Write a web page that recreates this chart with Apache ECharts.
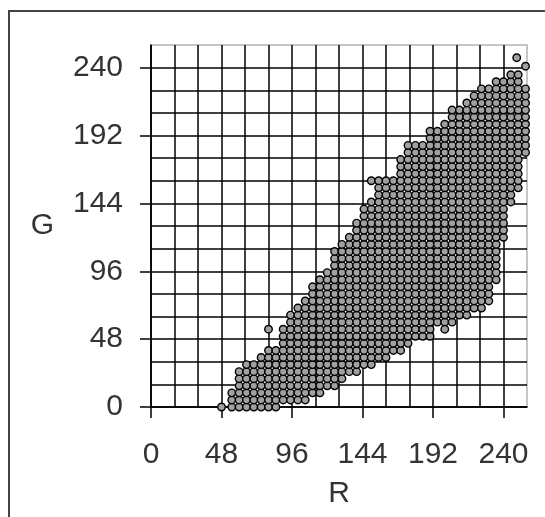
<!DOCTYPE html>
<html><head><meta charset="utf-8">
<style>html,body{margin:0;padding:0;background:#fff}#c{width:545px;height:517px}</style>
<script src="https://cdn.jsdelivr.net/npm/echarts@6/dist/echarts.min.js"></script>
</head><body><div id="c"></div>
<script>
const tickLabels=[0,48,96,144,192,240];
// outline of the point lattice: one G level per row, first and last R in that row
const gRows=[0,5,10,15,20,25,30,35,40,45,50,55,60,65,70,75,80,85,90,95,100,105,110,115,120,125,130,135,140,145,150,155,160,165,170,175,180,185,190,195,200,205,210,215,220,225,230,235];
const rFirst=[55,55,55,60,60,65,65,75,80,90,90,90,95,95,100,105,110,110,115,120,125,125,125,130,135,140,140,145,145,150,155,155,150,170,170,170,175,175,190,190,200,205,205,215,220,225,235,245];
const rLast=[85,105,115,125,130,140,150,160,170,175,190,190,205,215,225,230,230,230,235,235,235,235,235,235,240,240,240,240,240,245,245,250,250,250,250,250,255,255,255,255,255,255,255,255,255,255,250,250];
const looseR=[48,80,60,200,249,255];
const looseG=[0,55,25,55,247,241];
const rStep=5;
const points=[];
gRows.forEach((g,i)=>{for(let r=rFirst[i];r<=rLast[i];r+=rStep)points.push([r,g]);});
looseR.forEach((r,i)=>points.push([r,looseG[i]]));
const font='"Liberation Sans",Arial,sans-serif', ink='#333';
const chart=echarts.init(document.getElementById('c'),null,{renderer:'canvas'});
const grid={left:151,top:45,width:376,height:362,show:true,borderColor:'#b4b4b4',borderWidth:1.5,backgroundColor:'#fff'};
function base(name,extra){return Object.assign({type:'value',min:0,max:256,name:name,nameLocation:'middle',
 nameTextStyle:{fontFamily:font,fontSize:30,color:ink}},extra);}
function grid16(){return {interval:16,axisLine:{show:true,onZero:false,lineStyle:{color:'#000',width:1.5}},axisTick:{show:false},axisLabel:{show:false},
 splitLine:{show:true,showMaxLine:false,lineStyle:{color:'#000',width:1.5}}};}
function ticks(m){return {axisLine:{show:false},splitLine:{show:false},
 axisTick:{show:true,length:11,customValues:tickLabels,lineStyle:{color:'#000',width:1.5}},
 axisLabel:{show:true,customValues:tickLabels,margin:m,fontFamily:font,fontSize:30,color:ink}};}
const xTicks=Object.assign(base('R',ticks(33)),{position:'bottom',nameGap:72});
const yTicks=Object.assign(base('G',ticks(28)),{position:'left',nameGap:97,nameRotate:0});
yTicks.nameTextStyle.padding=[6,0,0,0];
chart.setOption({animation:false,backgroundColor:'#fff',grid:grid,
 xAxis:[base('',grid16()),xTicks],
 yAxis:[base('',grid16()),yTicks],
 series:[{type:'scatter',data:points,xAxisIndex:0,yAxisIndex:0,symbol:'circle',symbolSize:7.5,silent:true,large:false,
   itemStyle:{color:'#a0a0a0',borderColor:'#000',borderWidth:1.4,opacity:1}}],
 graphic:[{type:'polyline',silent:true,shape:{points:[[9,517],[9,11],[545,11]]},style:{stroke:'#444',lineWidth:2,fill:null}}]
});
</script></body></html>
